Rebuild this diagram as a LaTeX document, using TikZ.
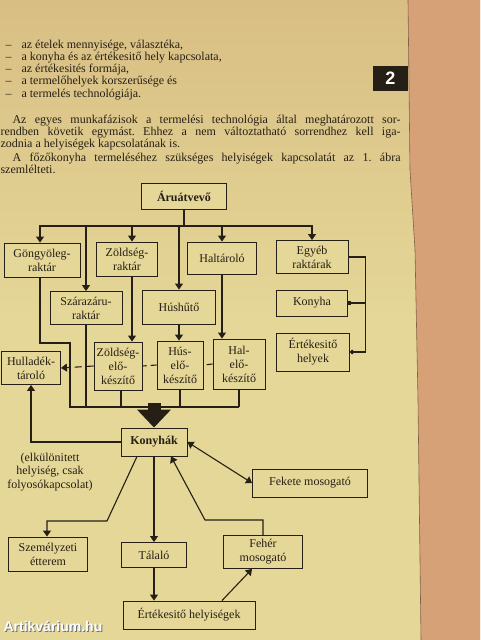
\documentclass[tikz,border=0pt]{standalone}
\usepackage{fontspec}
\setmainfont{Liberation Serif}
\newfontfamily\tabsans{Liberation Sans}
\usetikzlibrary{arrows.meta,positioning}
\definecolor{paper}{HTML}{E4D797}
\definecolor{papertop}{HTML}{D9BE84}
\definecolor{sidepage}{HTML}{D7A177}
\definecolor{ink}{HTML}{261F15}
\frenchspacing

\begin{document}
\begin{tikzpicture}[x=1pt, y=-1pt, line width=1.1pt, draw=ink, text=ink,
    main node/.style={draw=ink, line width=0.9pt, fill=paper, align=center,
                      inner sep=1pt, font=\fontsize{12}{14}\selectfont},
    bold node/.style={main node, font=\fontsize{12}{14}\selectfont\bfseries},
    body/.style={anchor=base west, inner sep=0pt, font=\fontsize{12}{12.3}\selectfont},
    arr/.style={-{Triangle[width=8pt,length=6pt]}},
    big arr/.style={line width=13pt, -{Triangle[width=33pt,length=18pt]}},
    dash line/.style={dash pattern=on 6pt off 4pt}]

  % page
  \useasboundingbox (0,0) rectangle (480,640);
  \shade[top color=papertop, bottom color=paper, middle color=paper] (0,0) rectangle (480,640);
  \fill[sidepage] (408,0) -- (480,0) -- (480,640) -- (421,640) -- (418,400) -- (415,250) -- (410,170) -- cycle;
  \draw[sidepage!60!black, line width=0.6pt] (408,0) -- (410,170) -- (415,250) -- (418,400) -- (421,640);

  % text above the figure
  \node[body] at (5,48) {\makebox[16pt][l]{–}az ételek mennyisége, választéka,};
  \node[body] at (5,60.3) {\makebox[16pt][l]{–}a konyha és az értékesitő hely kapcsolata,};
  \node[body] at (5,72.6) {\makebox[16pt][l]{–}az értékesités formája,};
  \node[body] at (5,84.9) {\makebox[16pt][l]{–}a termelőhelyek korszerűsége és};
  \node[body] at (5,97.2) {\makebox[16pt][l]{–}a termelés technológiája.};
  \node[body] at (12,123) {\makebox[388pt][s]{Az egyes munkafázisok a termelési technológia által meghatározott sor-}};
  \node[body] at (0,135) {\makebox[400pt][s]{rendben követik egymást. Ehhez a nem változtatható sorrendhez kell iga-}};
  \node[body] at (0,147) {zodnia a helyiségek kapcsolatának is.};
  \node[body] at (12,161) {\makebox[388pt][s]{A főzőkonyha termeléséhez szükséges helyiségek kapcsolatát az 1. ábra}};
  \node[body] at (0,173) {szemlélteti.};

  \fill[ink] (373,66) rectangle (408,91);
  \node[text=white, font=\tabsans\bfseries\fontsize{18}{18}\selectfont] (tab) at (390.5,78.5) {2};

  % figure
  \node[bold node, minimum width=85pt, minimum height=26pt] (1) at (184,196) {Áruátvevő};
  \node[main node, minimum width=76pt, minimum height=34pt] (2) at (42,260) {Göngyöleg-\\raktár};
  \node[main node, minimum width=61pt, minimum height=34pt] (3) at (127,259) {Zöldség-\\raktár};
  \node[main node, minimum width=69pt, minimum height=32pt] (4) at (222,258) {Haltároló};
  \node[main node, minimum width=72pt, minimum height=33pt] (5) at (312,257) {Egyéb\\raktárak};
  \node[main node, minimum width=72pt, minimum height=33pt] (6) at (86,308) {Szárazáru-\\raktár};
  \node[main node, minimum width=73pt, minimum height=34pt] (7) at (179,307) {Húshűtő};
  \node[main node, minimum width=71pt, minimum height=26pt] (8) at (312,303) {Konyha};
  \node[main node, minimum width=73pt, minimum height=38pt] (9) at (313,352) {Értékesitő\\helyek};
  \node[main node, minimum width=59pt, minimum height=33pt] (10) at (31,368) {Hulladék-\\tároló};
  \node[main node, minimum width=48pt, minimum height=48pt] (11) at (118,366) {Zöldség-\\elő-\\készítő};
  \node[main node, minimum width=46pt, minimum height=48pt] (12) at (180,365) {Hús-\\elő-\\készítő};
  \node[main node, minimum width=52pt, minimum height=50pt] (13) at (239,364) {Hal-\\elő-\\készítő};
  \node[bold node, minimum width=66pt, minimum height=28pt] (14) at (154,442) {Konyhák};
  \node[main node, minimum width=79pt, minimum height=34pt] (15) at (48,554) {Személyzeti\\étterem};
  \node[main node, minimum width=65pt, minimum height=25pt] (16) at (154,555) {Tálaló};
  \node[main node, minimum width=79pt, minimum height=33pt] (17) at (263,552) {Fehér\\mosogató};
  \node[main node, minimum width=115pt, minimum height=28pt] (18) at (310,483) {Fekete mosogató};
  \node[main node, minimum width=132pt, minimum height=28pt] (19) at (189,615) {Értékesitő helyiségek};

  \node[align=center, font=\fontsize{12}{13.5}\selectfont] (note) at (50,472)
       {(elkülönitett\\helyiség, csak\\folyosókapcsolat)};

  \coordinate (bus) at (184,226);
  \coordinate (g1) at (70,343);
  \coordinate (sink) at (154,407);
  \coordinate (b1) at (107,521);
  \coordinate (b2) at (205,520);

  \draw (1.south) -- (bus);
  \draw[arr] (bus) -| ([xshift=-2pt]2.north);
  \draw[arr] (bus) -| (6.north);
  \draw[arr] (bus) -| ([xshift=5pt]3.north);
  \draw[arr] (bus) -| (7.north);
  \draw[arr] (bus) -| (4.north);
  \draw[arr] (bus) -| (5.north);

  \draw[arr] ([xshift=5pt]3.south) -- ([xshift=5pt]3.south |- 11.north);
  \draw[arr] (7.south) -- (7.south |- 12.north);
  \draw[arr] (4.south) -- (4.south |- 13.north);

  \draw ([xshift=-2pt]2.south) |- (g1) |- (13.south |- sink);
  \draw (6.south) -- (6.south |- sink);
  \draw ([xshift=3pt]11.south) -- ([xshift=3pt]11.south |- sink);
  \draw (12.south) -- (12.south |- sink);
  \draw (13.south) -- (13.south |- sink);
  \draw[big arr] ([yshift=4pt]sink) -- (14.north);

  \draw[dash line] (13.west) -- (12.east);
  \draw[dash line] (12.west) -- (11.east);
  \draw[arr, dash pattern=on 7pt off 5pt] (11.west) -- (10.east);

  \draw[-{Square[length=3.5pt,width=3.5pt]}] ([xshift=17pt]5.east |- 8.east) -- (8.east);
  \draw[-{Circle[length=4.5pt]}] (5.east) -- ++(17,0) |- (9.east);

  \draw[arr] (14.west) -| (10.south);
  \draw[arr] ([xshift=-17pt]14.south) -- (b1) -| ([xshift=-1pt]15.north);
  \draw[arr] (14.south) -- (16.north);
  \draw[arr] (16.south) -- (16.south |- 19.north);
  \draw[arr] ([xshift=33pt]19.north) -- ([xshift=-11pt]17.south);
  \draw[arr] (17.north) -- (17.north |- b2) -- (b2) -- ([xshift=17pt]14.south);
  \draw[{Triangle[width=8pt,length=6pt]}-{Triangle[width=8pt,length=6pt]}] (14.east) -- (18.west);

  % watermark
  \node[body, font=\tabsans\bfseries\fontsize{14}{14}\selectfont, text=black!55] at (4,632) {Artikvárium.hu};
  \node[body, font=\tabsans\bfseries\fontsize{14}{14}\selectfont, text=white] (wm) at (3,631) {Artikvárium.hu};
\end{tikzpicture}
\end{document}
